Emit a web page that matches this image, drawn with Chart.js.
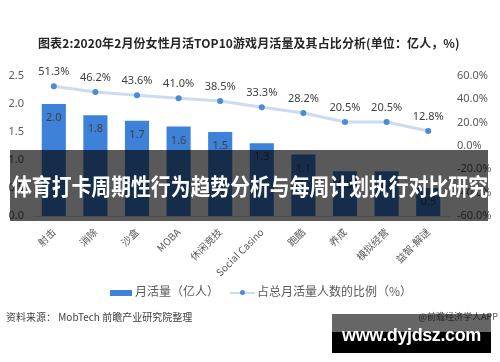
<!DOCTYPE html>
<html lang="zh">
<head>
<meta charset="utf-8">
<title>女性月活TOP10游戏</title>
<script src="https://cdn.jsdelivr.net/npm/chart.js@4/dist/chart.umd.min.js"></script>
<style>
  html, body { margin: 0; padding: 0; background: #fff; }
  body { width: 500px; height: 362px; position: relative; overflow: hidden; font-family: "Noto Sans CJK SC", "Noto Sans", sans-serif; }
  #wrap { position: absolute; left: 0; top: 0; width: 500px; height: 362px; }
  .title { position: absolute; left: 38px; top: 34px; font-size: 12px; font-weight: bold; color: #262626; white-space: nowrap; letter-spacing: 0.1px; }
  .legend { position: absolute; top: 282px; font-size: 12px; color: #595959; white-space: nowrap; }
  .src { position: absolute; top: 309px; font-size: 10px; color: #404040; white-space: nowrap; }
  .band { position: absolute; left: 10px; top: 150px; width: 478px; height: 71px; background: rgba(0,0,0,0.65); }
  .band span { position: absolute; left: 2px; top: 0; color: #fff; font-size: 23px; font-weight: bold; line-height: 71px; white-space: nowrap; transform-origin: 0 50%; }
  .box1 { position: absolute; left: 332px; top: 314px; width: 159px; height: 18px; background: rgba(0,0,0,0.6); }
  .box2 { position: absolute; left: 332px; top: 332px; width: 159px; height: 21px; background: #000; }
  .site { position: absolute; left: 332px; top: 325px; width: 159px; text-align: center; color: #fff; font-size: 18px; letter-spacing: -0.4px; font-weight: bold; font-family: "Liberation Sans", sans-serif; white-space: nowrap; }
</style>
</head>
<body>
<div id="wrap"><canvas id="chart" width="500" height="362"></canvas></div>
<div class="title">图表2:2020年2月份女性月活TOP10游戏月活量及其占比分析(单位：亿人，%)</div>

<div class="legend" style="left:110px;"><span style="display:inline-block;width:22px;height:6px;background:#3d82d8;vertical-align:middle;margin-right:3px;"></span>月活量（亿人）</div>
<div class="legend" style="left:230px;"><span style="display:inline-block;position:relative;width:25px;height:6px;vertical-align:middle;margin-right:2px;"><span style="position:absolute;left:0;top:2px;width:25px;height:2px;background:#c9dcf0;"></span><span style="position:absolute;left:10px;top:0;width:5px;height:5px;border-radius:50%;background:#4a89dc;"></span></span>占总月活量人数的比例（%）</div>

<div class="src" style="left:6px;">资料来源： MobTech 前瞻产业研究院整理</div>
<div class="src" style="right:2px;font-size:9px;top:310px;color:#595959;">@前瞻经济学人APP</div>

<div class="band"><span id="bandText">体育打卡周期性行为趋势分析与每周计划执行对比研究</span></div>
<div class="box1"></div>
<div class="box2"></div>
<div class="site">www.dyjdsz.com</div>

<script>
// 游戏类别
const categories = ['射击', '消除', '沙盒', 'MOBA', '休闲竞技', 'Social Casino', '跑酷', '养成', '模拟经营', '益智-解谜'];
// 月活量（亿人）
const mau = [2.0, 1.8, 1.7, 1.6, 1.5, 1.3, 1.1, 0.8, 0.8, 0.5];
// 占总月活量人数的比例（%）
const share = [51.3, 46.2, 43.6, 41.0, 38.5, 33.3, 28.2, 20.5, 20.5, 12.8];

// 横幅文字宽度适配
const band = document.getElementById('bandText');
band.style.transform = 'scaleX(' + (476 / band.getBoundingClientRect().width) + ')';

const tickFont = { family: 'Noto Sans', size: 11 };

// 数值标签
const valueLabels = {
  id: 'valueLabels',
  afterDatasetsDraw(chart) {
    const ctx = chart.ctx;
    ctx.save();
    ctx.textAlign = 'center';
    ctx.textBaseline = 'middle';
    ctx.font = '11px "Noto Sans"';
    ctx.fillStyle = '#404040';
    chart.getDatasetMeta(0).data.forEach((el, i) => {
      ctx.fillText(mau[i].toFixed(1), el.x, el.y + 14);
    });
    chart.getDatasetMeta(1).data.forEach((el, i) => {
      ctx.fillText(share[i].toFixed(1) + '%', el.x, el.y - 14);
    });
    ctx.restore();
  }
};

new Chart(document.getElementById('chart'), {
  data: {
    labels: categories,
    datasets: [
      {
        type: 'bar',
        label: '月活量（亿人）',
        data: mau,
        yAxisID: 'y',
        backgroundColor: '#3d82d8',
        barPercentage: 0.58,
        categoryPercentage: 1.0,
        order: 2
      },
      {
        type: 'line',
        label: '占总月活量人数的比例（%）',
        data: share,
        yAxisID: 'y1',
        borderColor: '#c9dcf0',
        borderWidth: 3,
        pointRadius: 3,
        pointBorderWidth: 0,
        pointBackgroundColor: '#4a89dc',
        tension: 0,
        order: 1
      }
    ]
  },
  options: {
    responsive: false,
    animation: false,
    layout: { padding: { top: 76, left: 0, right: 0, bottom: 0 } },
    plugins: { legend: { display: false }, tooltip: { enabled: false } },
    scales: {
      x: {
        grid: { display: false },
        border: { display: true, color: '#d9d9d9' },
        ticks: { color: '#595959', font: { family: 'Noto Sans CJK SC', size: 10 }, minRotation: 45, maxRotation: 45, padding: 2 },
        afterFit(s) { s.height = 146; }
      },
      y: {
        position: 'left',
        min: 0, max: 2.5,
        grid: { display: false },
        border: { display: false },
        ticks: { stepSize: 0.5, color: '#595959', font: tickFont, padding: 1, callback: v => v.toFixed(1) },
        afterFit(s) { s.width = 33; }
      },
      y1: {
        position: 'right',
        min: -60, max: 60,
        grid: { display: false },
        border: { display: false },
        ticks: { stepSize: 20, color: '#595959', font: tickFont, padding: 0, callback: v => v.toFixed(1) + '%' },
        afterFit(s) { s.width = 51; }
      }
    }
  },
  plugins: [valueLabels]
});
</script>
</body>
</html>
